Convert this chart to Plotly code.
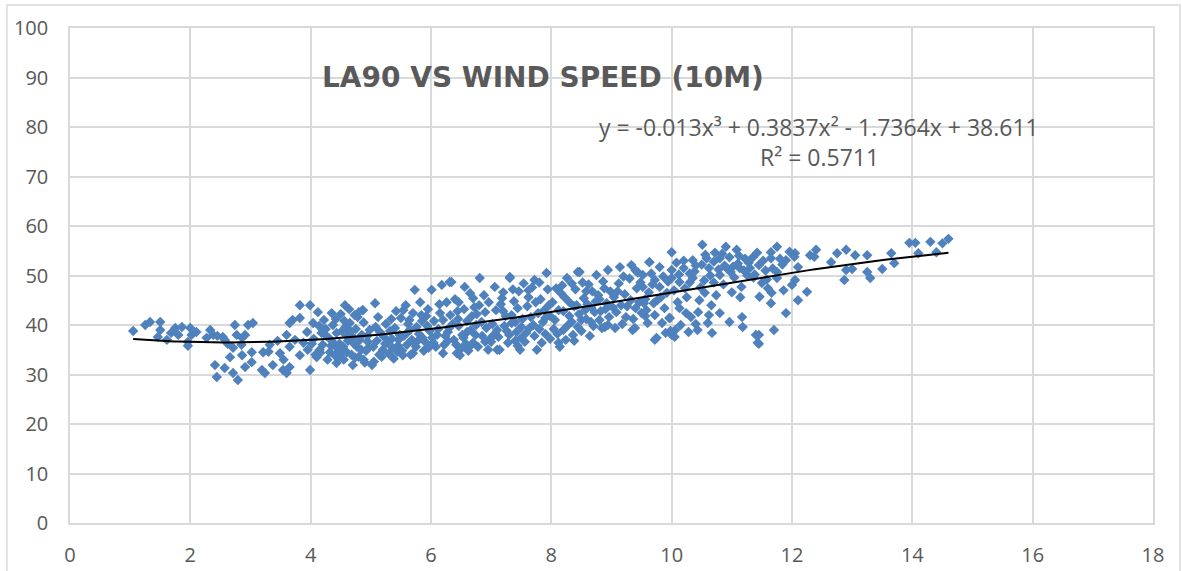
import plotly.graph_objects as go
import numpy as np

# ---- data ----
wind_speed = [
    1.05, 1.25, 1.33, 1.50, 1.50, 1.46, 1.61, 1.75, 1.80, 1.86,
    2.00, 1.96, 2.02, 2.10, 1.96, 1.68,
    2.33, 2.38, 2.27, 2.54, 2.57, 2.74, 2.77, 2.86, 2.96, 3.04,
    2.91, 2.71, 2.66, 2.86, 3.02, 2.41, 2.44, 2.57, 2.71, 2.79,
    2.91, 3.02, 2.45, 2.62, 2.85,
    3.19, 3.24, 3.32, 3.21, 3.37, 3.54, 3.60, 3.65, 3.49, 3.65,
    3.74, 3.60, 3.65, 3.82, 3.99, 3.82, 3.94, 3.82, 3.99, 3.45,
    3.55, 3.88, 3.70, 3.30, 3.95,
    4.04, 4.10, 4.20, 4.12, 4.35, 4.57, 4.37, 4.43, 4.40, 4.43,
    4.70, 4.60, 4.70, 4.73, 4.65, 4.77, 4.32, 4.05, 4.15, 4.25,
    4.28, 4.48, 4.52, 4.55, 4.62, 4.80, 4.85, 4.88, 4.92, 4.95,
    4.08, 4.18, 4.30, 4.45, 4.58, 4.68, 4.75, 4.82, 4.90, 4.98,
    4.22, 4.38, 4.50, 4.64, 4.78, 4.86, 4.96, 4.50, 4.72, 4.88,
    5.02, 5.07, 4.87, 5.53, 5.70, 5.05, 5.10, 5.15, 5.20, 5.25,
    5.30, 5.35, 5.40, 5.45, 5.50, 5.55, 5.60, 5.65, 5.70, 5.75,
    5.80, 5.85, 5.90, 5.95, 5.73, 5.12, 5.28, 5.42, 5.58, 5.68,
    5.88, 5.98, 5.18, 5.38, 5.62, 5.82, 5.92, 5.08, 5.48, 5.78,
    5.22, 5.44, 5.66, 5.84, 5.96,
    6.18, 6.34, 6.31, 6.20, 6.43, 6.01, 6.05, 6.10, 6.15, 6.22,
    6.26, 6.30, 6.38, 6.45, 6.50, 6.55, 6.60, 6.65, 6.70, 6.75,
    6.81, 6.85, 6.90, 6.95, 6.56, 6.40, 6.62, 6.80, 6.92, 6.48,
    6.08, 6.24, 6.36, 6.52, 6.68, 6.72, 6.88, 6.98, 6.14, 6.58,
    6.28, 6.44, 6.66, 6.78, 6.96, 6.02,
    7.06, 7.14, 7.10, 7.31, 7.31, 7.48, 7.76, 7.72, 7.92, 7.02,
    7.08, 7.12, 7.18, 7.22, 7.28, 7.34, 7.38, 7.42, 7.46, 7.52,
    7.56, 7.60, 7.64, 7.68, 7.72, 7.78, 7.82, 7.86, 7.90, 7.96,
    7.04, 7.24, 7.36, 7.54, 7.70, 7.84, 7.94, 7.16, 7.44, 7.62,
    7.26, 7.50, 7.80, 7.98, 7.40, 7.88,
    8.44, 8.75, 8.47, 8.26, 8.14, 8.36, 8.89, 8.94, 8.02, 8.06,
    8.10, 8.16, 8.20, 8.24, 8.30, 8.34, 8.40, 8.46, 8.50, 8.54,
    8.58, 8.62, 8.66, 8.70, 8.78, 8.82, 8.86, 8.92, 8.96, 8.12,
    8.28, 8.38, 8.52, 8.64, 8.74, 8.84, 8.98, 8.18, 8.56, 8.80,
    8.42, 8.68, 8.90, 8.08,
    9.14, 9.33, 9.63, 9.35, 9.39, 9.72, 9.75, 9.63, 9.80, 9.52,
    9.72, 9.52, 9.80, 9.92, 9.70, 9.50, 9.72, 9.04, 9.08, 9.12,
    9.18, 9.22, 9.26, 9.30, 9.36, 9.42, 9.46, 9.56, 9.60, 9.66,
    9.84, 9.88, 9.96, 9.90, 9.94, 9.06, 9.44, 9.58, 9.82, 9.98,
    10.00, 10.51, 10.00, 10.43, 10.67, 10.96, 10.80, 10.60, 10.44, 10.66,
    10.55, 10.25, 10.13, 9.97, 10.00, 10.00, 10.20, 10.35, 10.35, 10.58,
    10.62, 10.80, 10.80, 10.96, 10.98, 10.13, 10.90, 10.05, 10.15, 10.28,
    10.30, 10.40, 10.48, 10.70, 10.74, 10.86, 10.08, 10.22, 10.46, 10.72,
    10.88, 10.54, 10.32, 10.10,
    11.08, 11.18, 11.40, 11.43, 11.17, 11.45, 11.45, 11.35, 11.30, 11.13,
    11.00, 11.16, 11.46, 11.66, 11.75, 11.65, 11.65, 11.45, 11.50, 11.65,
    11.75, 11.75, 11.70, 11.90, 12.00, 11.90, 11.22, 11.04, 11.26, 11.56,
    11.10, 11.60, 11.84, 11.96, 11.38,
    12.05, 12.10, 12.05, 12.10, 12.25, 12.30, 12.40, 12.65, 12.75, 12.90,
    12.90, 12.87, 13.00, 12.37, 12.04,
    13.05, 13.25, 13.25, 13.30, 13.50, 13.65, 13.70, 13.95, 14.05, 14.10,
    14.30, 14.40, 14.50, 14.60,
    # denser middle band
    4.02, 4.14, 4.26, 4.34, 4.42, 4.54, 4.60, 4.66, 4.74, 4.84,
    4.94, 4.46, 4.56, 4.80, 4.16,
    5.04, 5.14, 5.24, 5.32, 5.36, 5.46, 5.52, 5.60, 5.64, 5.72,
    5.76, 5.86, 5.94, 5.34, 5.54,
    6.04, 6.12, 6.20, 6.28, 6.32, 6.42, 6.46, 6.54, 6.60, 6.64,
    6.74, 6.76, 6.84, 6.90, 6.46, 6.70,
    7.00, 7.10, 7.20, 7.30, 7.34, 7.44, 7.50, 7.58, 7.66, 7.74,
    7.80, 7.90, 7.98, 7.40, 7.62, 7.20,
    8.04, 8.12, 8.22, 8.30, 8.38, 8.44, 8.50, 8.60, 8.66, 8.72,
    8.80, 8.88, 8.94, 8.34, 8.58, 8.20,
    9.02, 9.10, 9.16, 9.24, 9.32, 9.40, 9.48, 9.54, 9.62, 9.68,
    9.76, 9.86, 9.20, 9.40, 9.56,
    10.04, 10.12, 10.20, 10.30, 10.38, 10.50, 10.56, 10.64, 10.70, 10.78,
    10.84, 10.92, 10.06, 10.40, 10.62, 10.24,
    11.02, 11.12, 11.20, 11.28, 11.36, 11.42, 11.52, 11.58, 11.68, 11.80,
    11.14, 11.86,
]

la90 = [
    38.8, 40.0, 40.6, 40.6, 39.0, 37.6, 37.0, 39.4, 38.0, 39.6,
    39.4, 36.6, 38.0, 38.6, 35.8, 38.4,
    39.0, 38.0, 37.4, 37.6, 37.0, 40.0, 38.0, 37.4, 40.0, 40.4,
    38.0, 35.4, 33.5, 33.9, 34.5, 31.9, 29.5, 31.3, 30.3, 28.9,
    31.5, 32.5, 37.8, 36.2, 36.0,
    30.9, 30.3, 36.0, 34.5, 31.9, 30.9, 30.3, 31.5, 34.3, 35.6,
    37.0, 38.0, 40.4, 44.0, 44.0, 41.4, 38.6, 33.9, 30.9, 36.8,
    33.0, 36.4, 41.0, 34.6, 35.0,
    40.4, 33.5, 36.0, 42.6, 42.4, 44.0, 40.0, 38.4, 33.9, 32.3,
    31.9, 34.5, 37.6, 42.0, 40.4, 35.6, 34.5, 37.2, 35.0, 39.2,
    33.0, 36.2, 38.8, 33.0, 36.8, 33.6, 38.0, 40.5, 34.8, 36.6,
    34.0, 38.4, 37.4, 35.2, 39.6, 34.0, 39.2, 37.0, 32.4, 39.0,
    41.0, 36.4, 42.2, 43.2, 41.6, 43.0, 35.4, 34.2, 36.2, 33.0,
    31.9, 44.4, 43.0, 33.9, 34.3, 32.6, 36.8, 38.6, 35.0, 40.2,
    34.2, 37.2, 39.4, 35.8, 41.4, 37.8, 36.0, 39.0, 42.4, 35.6,
    38.2, 40.8, 36.6, 43.2, 47.1, 41.6, 36.4, 42.8, 44.0, 37.0,
    34.8, 38.8, 33.6, 33.2, 40.2, 44.6, 41.8, 39.6, 38.0, 36.8,
    37.6, 34.6, 34.0, 42.0, 35.4,
    48.1, 48.7, 48.7, 34.3, 34.3, 47.1, 40.8, 38.0, 42.4, 36.0,
    44.6, 39.4, 37.0, 41.2, 35.2, 43.2, 38.6, 46.4, 36.4, 40.0,
    49.5, 37.8, 42.6, 35.0, 47.7, 45.2, 34.8, 44.0, 39.4, 33.9,
    35.6, 37.8, 40.2, 38.0, 41.8, 43.6, 46.0, 37.2, 44.2, 36.2,
    36.8, 42.8, 39.0, 35.6, 44.6, 37.4,
    47.7, 35.0, 35.0, 49.7, 49.5, 35.0, 35.0, 49.1, 50.5, 40.2,
    43.0, 37.6, 45.4, 39.8, 36.4, 42.0, 44.8, 38.6, 46.8, 41.2,
    36.6, 43.8, 39.4, 47.6, 37.8, 42.4, 45.2, 40.6, 38.2, 44.0,
    38.0, 41.8, 47.2, 48.4, 40.0, 36.4, 47.2, 44.2, 35.8, 45.6,
    38.8, 37.4, 48.6, 41.8, 40.6, 43.0,
    50.7, 50.1, 50.7, 49.5, 35.6, 38.0, 39.6, 51.1, 44.6, 41.0,
    38.2, 46.4, 42.8, 37.0, 44.6, 40.6, 47.2, 42.2, 38.8, 45.4,
    41.2, 48.2, 43.6, 39.8, 46.0, 42.8, 48.8, 44.4, 41.6, 36.4,
    40.0, 36.8, 48.6, 37.8, 44.8, 39.4, 46.8, 48.0, 43.0, 41.0,
    44.0, 46.8, 43.2, 47.4,
    51.7, 52.1, 52.7, 39.0, 39.4, 37.0, 37.4, 52.7, 51.7, 50.1,
    49.1, 47.7, 47.7, 46.5, 44.4, 42.4, 42.0, 45.6, 42.6, 48.4,
    40.2, 46.2, 43.8, 49.4, 41.2, 47.4, 44.6, 45.2, 40.4, 50.4,
    40.4, 43.4, 41.4, 38.4, 48.8, 39.4, 50.6, 43.0, 45.6, 38.8,
    54.7, 56.2, 38.0, 39.0, 38.4, 40.6, 42.4, 40.4, 42.6, 44.0,
    46.5, 45.6, 43.4, 41.4, 51.1, 49.5, 51.5, 53.1, 49.5, 53.5,
    51.5, 53.5, 50.1, 53.7, 50.7, 48.7, 55.8, 37.6, 40.0, 38.6,
    50.4, 52.0, 47.6, 48.6, 46.0, 48.2, 52.6, 47.4, 45.0, 54.6,
    52.0, 49.0, 41.6, 44.6,
    55.2, 39.6, 38.0, 36.4, 41.6, 38.0, 36.2, 53.7, 51.5, 51.5,
    46.6, 47.7, 45.7, 46.5, 55.8, 54.7, 53.5, 52.1, 48.5, 44.4,
    50.7, 49.5, 39.0, 42.4, 48.1, 53.1, 53.4, 49.6, 50.0, 51.0,
    52.4, 47.4, 52.2, 54.8, 50.2,
    49.1, 51.7, 54.5, 45.0, 46.7, 54.1, 55.2, 52.7, 54.5, 55.2,
    51.1, 49.1, 51.3, 53.8, 53.8,
    54.1, 54.1, 50.7, 49.5, 51.3, 54.5, 52.5, 56.6, 56.6, 54.5,
    56.8, 54.7, 56.5, 57.4,
    # denser middle band
    36.2, 39.8, 37.8, 35.8, 41.2, 35.6, 37.8, 38.8, 33.4, 35.0,
    37.8, 33.4, 40.8, 42.6, 34.4,
    35.6, 34.0, 36.2, 38.8, 35.4, 37.0, 34.8, 38.4, 41.0, 36.4,
    39.6, 37.4, 39.8, 41.2, 43.0,
    36.4, 39.2, 41.0, 38.6, 42.0, 36.0, 39.8, 37.4, 40.8, 35.6,
    38.0, 42.2, 40.6, 36.6, 44.6, 45.4,
    36.6, 39.0, 42.8, 38.0, 40.4, 43.4, 39.6, 38.4, 41.6, 44.6,
    39.2, 41.4, 37.2, 36.8, 47.0, 46.6,
    39.2, 43.0, 45.6, 41.8, 43.8, 39.6, 41.0, 44.2, 40.6, 42.6,
    45.2, 47.4, 40.0, 48.4, 46.8, 39.0,
    43.6, 46.8, 44.0, 41.6, 45.0, 43.4, 48.6, 44.4, 46.6, 48.2,
    45.0, 49.8, 49.8, 51.0, 41.8,
    47.0, 50.2, 53.0, 48.6, 50.8, 52.2, 54.2, 50.0, 52.8, 51.2,
    54.4, 51.4, 39.0, 40.2, 42.0, 42.4,
    51.8, 54.0, 51.0, 52.6, 49.6, 54.6, 53.0, 49.2, 51.4, 53.4,
    45.6, 47.0,
]

# trendline coefficients shown on the chart (cubic, highest power first)
trend_coeffs = [-0.013, 0.3837, -1.7364, 38.611]
trend_label = "y = -0.013x³ + 0.3837x² - 1.7364x + 38.611"
r2_label = "R² = 0.5711"
chart_title = "LA90 VS WIND SPEED (10M)"

x_ticks = [0, 2, 4, 6, 8, 10, 12, 14, 16, 18]
y_ticks = [0, 10, 20, 30, 40, 50, 60, 70, 80, 90, 100]

# ---- figure ----
tx = np.linspace(min(wind_speed), max(wind_speed), 200)
ty = np.polyval(trend_coeffs, tx)

grid = "#D9D9D9"
txt = "#595959"
font_family = "Open Sans, Lato, sans-serif"

fig = go.Figure()
fig.add_trace(go.Scatter(
    x=wind_speed, y=la90, mode="markers",
    marker=dict(symbol="diamond", size=8, color="#4F81BD", line=dict(width=0)),
    showlegend=False, hoverinfo="x+y",
))
fig.add_trace(go.Scatter(
    x=tx, y=ty, mode="lines",
    line=dict(color="black", width=2),
    showlegend=False, hoverinfo="skip",
))

fig.update_layout(
    width=1182, height=571,
    margin=dict(l=70, r=29, t=28, b=48),
    paper_bgcolor="white", plot_bgcolor="white",
    font=dict(family=font_family, color=txt, size=20),
    xaxis=dict(range=[0, 18], tickvals=x_ticks, showgrid=True, gridcolor=grid,
               gridwidth=1.5, zeroline=False, showline=True, mirror=True,
               linecolor=grid, linewidth=1.5, ticks="", ticklabelstandoff=13,
               automargin=False, tickfont=dict(size=20, color=txt)),
    yaxis=dict(range=[0, 100], tickvals=y_ticks, showgrid=True, gridcolor=grid,
               gridwidth=1.5, zeroline=False, showline=True, mirror=True,
               linecolor=grid, linewidth=1.5, ticks="", ticklabelstandoff=16,
               automargin=False, tickfont=dict(size=20, color=txt)),
    annotations=[
        dict(x=7.86, y=90.1, xref="x", yref="y", text="<b>" + chart_title + "</b>",
             showarrow=False,
             font=dict(size=28, color=txt, family="DejaVu Sans, sans-serif"),
             xanchor="center", yanchor="middle"),
        dict(x=12.45, y=80.0, xref="x", yref="y", text=trend_label,
             showarrow=False, font=dict(size=23, color=txt, family=font_family),
             xanchor="center", yanchor="middle"),
        dict(x=12.45, y=73.9, xref="x", yref="y", text=r2_label,
             showarrow=False, font=dict(size=23, color=txt, family=font_family),
             xanchor="center", yanchor="middle"),
    ],
    shapes=[
        dict(type="rect", xref="paper", yref="paper",
             x0=-0.0582, x1=1.0249, y0=-0.12, y1=1.0465,
             line=dict(color="#D9D9D9", width=1.5), fillcolor="rgba(0,0,0,0)",
             layer="below"),
    ],
)

fig.write_html("out.html")
